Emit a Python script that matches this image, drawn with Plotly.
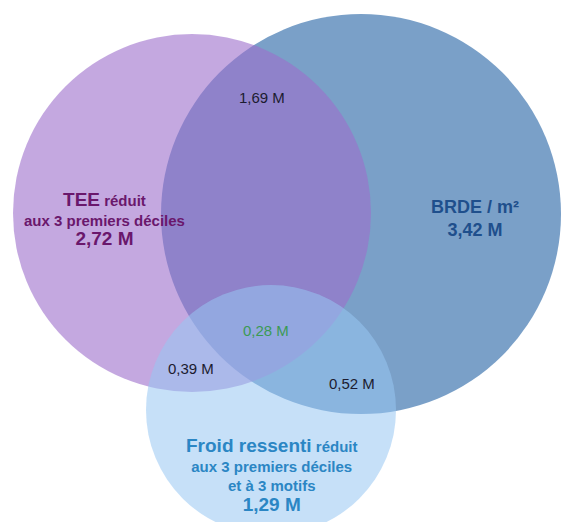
import plotly.graph_objects as go

# --- data ---
set_names = ["TEE", "BRDE / m²", "Froid ressenti"]
set_values = [2.72, 3.42, 1.29]
overlap_names = ["TEE & BRDE", "TEE & Froid", "BRDE & Froid", "TEE & BRDE & Froid"]
overlap_values = [1.69, 0.39, 0.52, 0.28]


def fmt(v):
  return ("%.2f M" % v).replace(".", ",")


W, H = 564, 522

# circle geometry (pixels, y down) - drawing order: BRDE, TEE, Froid
circles = {
  "BRDE / m²": dict(cx=361, cy=214, r=200, color="rgb(122,160,200)", opacity=1.0),
  "TEE": dict(cx=192, cy=213, r=179, color="rgb(157,110,203)", opacity=0.6),
  "Froid ressenti": dict(cx=271, cy=410, r=125, color="rgb(151,198,242)", opacity=0.55),
}

set_label_pos = {"TEE": (104, 219), "BRDE / m²": (475, 218), "Froid ressenti": (272, 475)}
set_label_color = {"TEE": "#6a176c", "BRDE / m²": "#1f4f8c", "Froid ressenti": "#2b86c4"}
overlap_pos = [(262, 97), (191, 368), (352, 383), (266, 330)]
overlap_color = ["#1c1c30", "#1c1c30", "#1c1c30", "#3b9a55"]

fig = go.Figure()

for name in ["BRDE / m²", "TEE", "Froid ressenti"]:
  c = circles[name]
  fig.add_shape(type="circle", xref="x", yref="y",
                x0=c["cx"] - c["r"], x1=c["cx"] + c["r"],
                y0=c["cy"] - c["r"], y1=c["cy"] + c["r"],
                fillcolor=c["color"], opacity=c["opacity"],
                line=dict(width=0), layer="below")

# set labels
for name, val in zip(set_names, set_values):
  x, y = set_label_pos[name]
  if name == "TEE":
    txt = ("<b><span style='font-size:19px'>TEE</span> réduit</b><br>"
           "<b>aux 3 premiers déciles</b><br>"
           "<b><span style='font-size:19px'>" + fmt(val) + "</span></b>")
  elif name == "Froid ressenti":
    txt = ("<b><span style='font-size:19px'>Froid ressenti</span> réduit</b><br>"
           "<b>aux 3 premiers déciles</b><br>"
           "<b>et à 3 motifs</b><br>"
           "<b><span style='font-size:19px'>" + fmt(val) + "</span></b>")
  else:
    txt = "<b>" + name + "</b><br><b>" + fmt(val) + "</b>"
  fig.add_annotation(x=x, y=y, xref="x", yref="y", text=txt, showarrow=False,
                     align="center",
                     font=dict(family="Liberation Sans, Arial", size=18 if name == "BRDE / m²" else 15,
                               color=set_label_color[name]))

# overlap labels
for (x, y), val, col in zip(overlap_pos, overlap_values, overlap_color):
  fig.add_annotation(x=x, y=y, xref="x", yref="y", text=fmt(val), showarrow=False,
                     font=dict(family="Liberation Sans, Arial", size=15, color=col))

fig.update_xaxes(range=[0, W], visible=False, fixedrange=True)
fig.update_yaxes(range=[H, 0], visible=False, fixedrange=True)
fig.update_layout(width=W, height=H, margin=dict(l=0, r=0, t=0, b=0),
                  plot_bgcolor="white", paper_bgcolor="white", showlegend=False)

fig.write_html("out.html", config={"displayModeBar": False},
               post_script="document.body.style.margin='0';")
